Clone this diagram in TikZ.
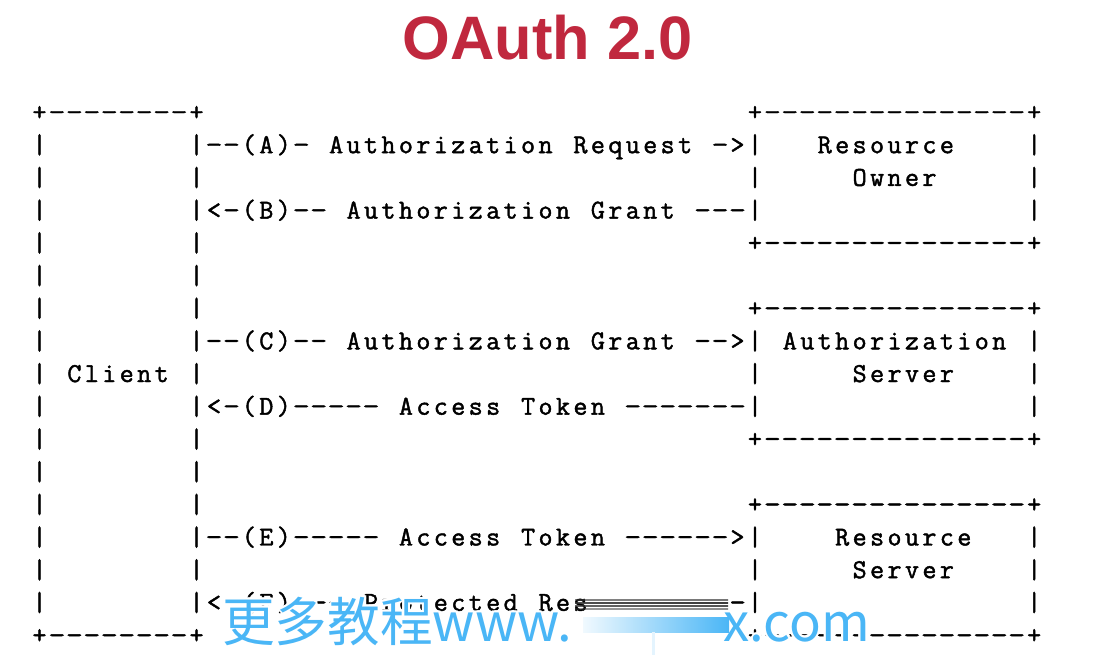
\documentclass[tikz,border=0pt]{standalone}
\usepackage{fontspec}
\usepackage{graphicx}
\newfontfamily\titlefont{Liberation Sans}
\newfontfamily\cjk{Noto Sans CJK SC}
\newfontfamily\ascfont{Latin Modern Mono}[FakeBold=1.6]
\definecolor{titlered}{RGB}{192,40,62}
\definecolor{wmblue}{RGB}{74,182,246}
\newcount\asccol
\newcommand\ascglyph[1]{\if#1-\scalebox{1.2}[1]{-}\else#1\fi}
\makeatletter
% #1 row, #2 first column, #3 characters ('.' = blank cell)
\newcommand\ascline[3]{%
  \global\asccol=#2\relax
  \@tfor\ascch:=#3\do{%
    \if\ascch.\else
      \node[asc] (c-#1-\the\asccol) at ({39.5+17.45*\the\asccol},{120.5+32.69*#1}) {\ascglyph{\ascch}};
    \fi
    \global\advance\asccol by 1\relax}}
\makeatother
\begin{document}
\begin{tikzpicture}[x=0.75pt,y=-0.75pt,
  asc/.style={inner sep=0pt,outer sep=0pt,anchor=base,
    font=\ascfont\fontsize{20.5}{20.5}\selectfont},
  title/.style={inner sep=0pt,anchor=base,text=titlered,
    font=\titlefont\bfseries\fontsize{46}{46}\selectfont},
  wm/.style={inner sep=0pt,text=wmblue,font=\cjk\fontsize{39.5}{39.5}\selectfont},
  halo/.style={inner sep=0pt,text=white,font=\cjk\fontsize{39.5}{39.5}\selectfont}]
\useasboundingbox (0,0) rectangle (1095,655);
\fill[white] (0,0) rectangle (1095,655);

\node[title] (title) at (547.5,60) {OAuth 2.0};

% Client box
\ascline{0}{0}{+--------+}
\ascline{1}{0}{|........|}
\ascline{2}{0}{|........|}
\ascline{3}{0}{|........|}
\ascline{4}{0}{|........|}
\ascline{5}{0}{|........|}
\ascline{6}{0}{|........|}
\ascline{7}{0}{|........|}
\ascline{8}{0}{|.Client.|}
\ascline{9}{0}{|........|}
\ascline{10}{0}{|........|}
\ascline{11}{0}{|........|}
\ascline{12}{0}{|........|}
\ascline{13}{0}{|........|}
\ascline{14}{0}{|........|}
\ascline{15}{0}{|........|}
\ascline{16}{0}{+--------+}

% Resource Owner
\ascline{0}{41}{+---------------+}
\ascline{1}{41}{|...Resource....|}
\ascline{2}{41}{|.....Owner.....|}
\ascline{3}{41}{|...............|}
\ascline{4}{41}{+---------------+}
% Authorization Server
\ascline{6}{41}{+---------------+}
\ascline{7}{41}{|.Authorization.|}
\ascline{8}{41}{|.....Server....|}
\ascline{9}{41}{|...............|}
\ascline{10}{41}{+---------------+}
% Resource Server
\ascline{12}{41}{+---------------+}
\ascline{13}{41}{|....Resource...|}
\ascline{14}{41}{|.....Server....|}
\ascline{15}{41}{|...............|}
\ascline{16}{41}{+---------------+}

% Messages
\ascline{1}{10}{--(A)-.Authorization.Request.->}
\ascline{3}{10}{<-(B)--.Authorization.Grant.---}
\ascline{7}{10}{--(C)--.Authorization.Grant.-->}
\ascline{9}{10}{<-(D)-----.Access.Token.-------}
\ascline{13}{10}{--(E)-----.Access.Token.------>}
\ascline{15}{10}{<-(F)---.Protected.Resource.---}

% blurred streak over the last message
\fill[white] (589,592) rectangle (731,617);
\foreach \yy/\op in {599/0.6,602/0.85,605/0.75,608/0.5}{
  \shade[left color=black!80,middle color=black!30,right color=black!90,opacity=\op]
    (575,\yy) rectangle (728,\yy+1.8);
}

% watermark
\foreach \dx/\dy in {-2/0,2/0,0/-2,0/2,-1.5/-1.5,1.5/1.5,-1.5/1.5,1.5/-1.5}{
  \node[halo,anchor=base west] at (222+\dx,641+\dy) {更多教程www.};
  \node[halo,anchor=base east] at (870+\dx,641+\dy) {x.com};
}
\node[wm,anchor=base west] (wm1) at (222,641) {更多教程www.};
\node[wm,anchor=base east] (wm2) at (870,641) {x.com};
\shade[left color=wmblue!8,right color=wmblue] (583,617) rectangle (729,632);
\fill[wmblue!15] (652,632) rectangle (655,655);
\end{tikzpicture}
\end{document}
